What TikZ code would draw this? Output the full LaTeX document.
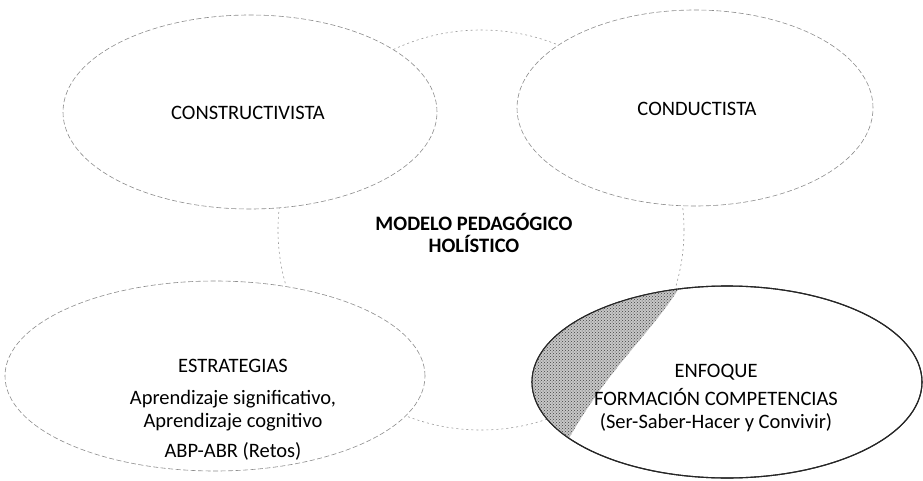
\documentclass[tikz,border=0pt]{standalone}
\usepackage{fontspec}
\setmainfont{Carlito}
\usepackage{tikz}
\usetikzlibrary{shapes.geometric}
\usetikzlibrary{patterns}

\begin{document}
\begin{tikzpicture}[
                x = 1pt, y = -1pt,
                every node/.style = {inner sep = 0pt},
                ovalo/.style = {ellipse, fill = white, draw = black!45,
                  line width = 0.6pt, dash pattern = on 5pt off 2.5pt},
                ovalofuerte/.style = {ellipse, fill = white, draw = black!85,
                  line width = 1.1pt},
                texto/.style = {align = center,
                  font = \fontsize{20.5}{23}\selectfont},
                titulo/.style = {align = center,
                  font = \fontsize{20.5}{22}\selectfont\bfseries}
                ]
  \useasboundingbox (0,0) rectangle (923,481);

  % Central ellipse, mostly hidden
  \node[ellipse, draw = black!40, line width = 0.6pt,
        dash pattern = on 2pt off 3pt,
        minimum width = 406pt, minimum height = 400pt] (Centro) at (481,230) {};

  % The four ellipses
  \node[ovalo, minimum width = 374pt, minimum height = 194pt] (Cons) at (250,112) {};
  \node[ovalo, minimum width = 356pt, minimum height = 196pt] (Cond) at (695,108) {};
  \node[ovalo, minimum width = 420pt, minimum height = 190pt] (Estr) at (215,376) {};
  \node[ovalofuerte, minimum width = 390pt, minimum height = 192pt] (Enf) at (727,382) {};

  % Shaded part of the last ellipse
  \begin{scope}
    \clip (Enf.center) ellipse [x radius = 195pt, y radius = 96pt];
    \fill[black!22]
      (525,280) -- (684,280) .. controls (655,330) and (610,365) .. (568,440)
      -- (525,440) -- cycle;
    \fill[pattern = crosshatch dots, pattern color = black!75]
      (525,280) -- (684,280) .. controls (655,330) and (610,365) .. (568,440)
      -- (525,440) -- cycle;
  \end{scope}
  \draw[black!85, line width = 1.1pt] (Enf.center) ellipse [x radius = 195pt, y radius = 96pt];

  % Texts
  \node[texto]  (TCons)   at (248,113) {CONSTRUCTIVISTA};
  \node[texto]  (TCond)   at (697,109) {CONDUCTISTA};
  \node[titulo] (TCentro) at (474,233) {MODELO PEDAGÓGICO\\HOLÍSTICO};
  \node[texto]  (TEstr)   at (233,410) {ESTRATEGIAS\\[9pt]
                                        Aprendizaje significativo,\\
                                        Aprendizaje cognitivo\\[7pt]
                                        ABP-ABR (Retos)};
  \node[texto]  (TEnf)    at (716,398) {ENFOQUE\\[5pt]
                                        FORMACIÓN COMPETENCIAS\\
                                        (Ser-Saber-Hacer y Convivir)};
\end{tikzpicture}
\end{document}
